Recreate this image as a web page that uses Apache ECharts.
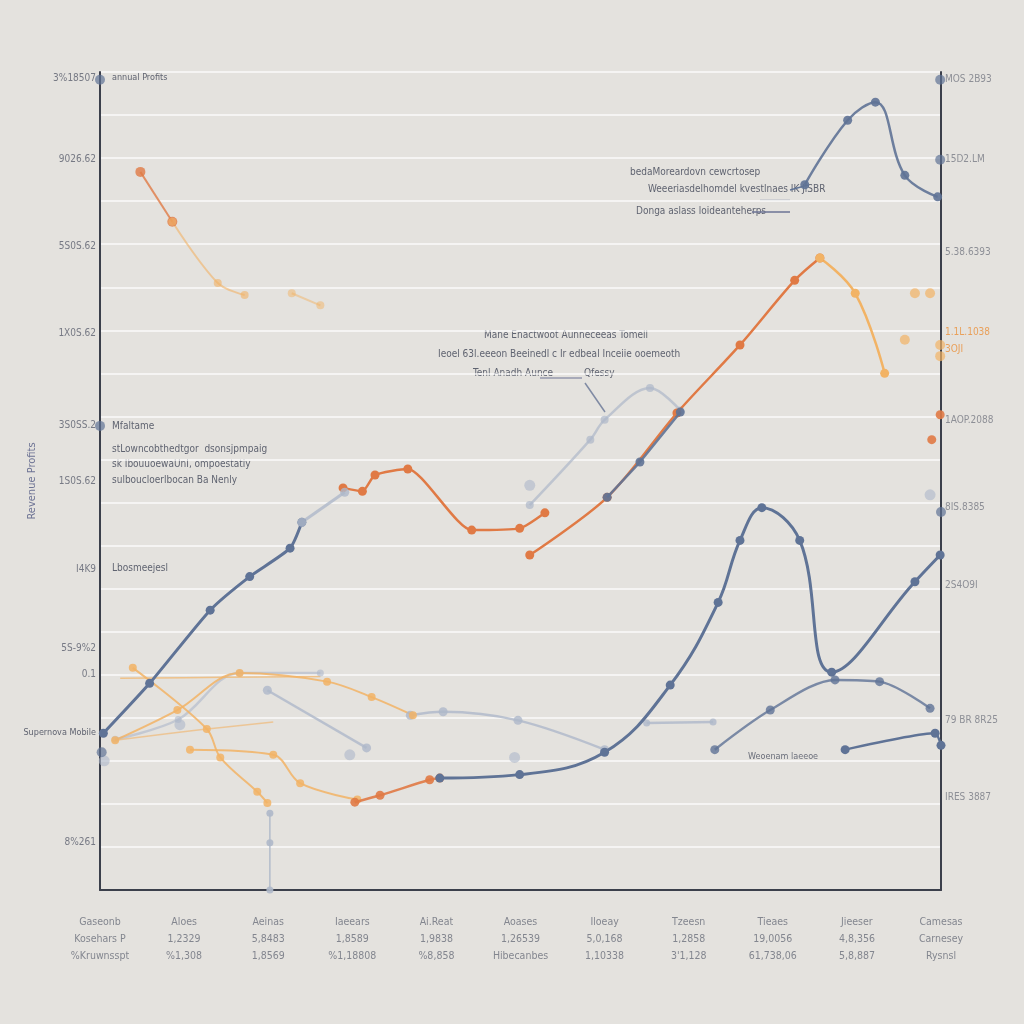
<!DOCTYPE html>
<html>
<head>
<meta charset="utf-8">
<script src="https://cdn.jsdelivr.net/npm/echarts@6/dist/echarts.min.js"></script>
<style>
html,body{margin:0;padding:0;background:#e4e2de;}
#chart{width:1024px;height:1024px;}
</style>
</head>
<body>
<div id="chart"></div>
<script>
// ---- categories (x axis, 3-line labels) ----
var categories = [
  ['Gaseonb','Kosehars P','%Kruwnsspt'],
  ['Aloes','1,2329','%1,308'],
  ['Aeinas','5,8483','1,8569'],
  ['Iaeears','1,8589','%1,18808'],
  ['Ai.Reat','1,9838','%8,858'],
  ['Aoases','1,26539','Hibecanbes'],
  ['Iloeay','5,0,168','1,10338'],
  ['Tzeesn','1,2858','3\'1,128'],
  ['Tieaes','19,0056','61,738,06'],
  ['Jieeser','4,8,356','5,8,887'],
  ['Camesas','Carnesey','Rysnsl']
];

// ---- left axis tick labels ----
var leftTickValues = [943, 848, 747, 646, 539, 475, 372, 281, 250, 55];
var leftTickLabels = ['3%18507','9026.62','5S0S.62','1X0S.62','3S0SS.2','1S0S.62','I4K9','5S-9%2','0.1','8%261'];
// ---- right axis tick labels ----
var rightTickValues = [941, 848, 740, 647, 628, 545, 444, 354, 197, 108];
var rightTickLabels = ['MOS 2B93','15D2.LM','5.38.6393','1.1L.1038','3OJI','1AOP.2088','8IS.8385','2S4O9I','79 BR 8R25','IRES 3887'];
var rightTickColors = ['#8d8f96','#8d8f96','#8d8f96','#e9a05a','#e9a05a','#8d8f96','#8d8f96','#8d8f96','#8d8f96','#8d8f96'];

// ---- series values: [category position, value] ----
var slateA = [[0.04,182],[0.59,240],[1.31,325],[1.78,364],[2.26,397],[2.40,427]];
var slateA2 = [[2.40,427],[2.91,462]];
var slateB = [[4.04,130],[4.99,134],[6.00,160],[6.78,238],[7.35,334],[7.61,406],[7.87,444],[8.32,406],[8.70,253],[9.69,358],[9.99,389]];
var slateC = [[7.31,163],[7.97,209],[8.74,244],[9.27,242],[9.87,211]];
var slateD = [[8.86,163],[9.93,182],[10.0,168]];
var slateE = [[8.38,819],[8.89,894],[9.22,915],[9.57,830],[9.96,805]];
var slateF = [[6.03,456],[6.42,497],[6.90,555]];
var slateDots = [[0,941],[0,539],[9.99,848],[9.99,941],[10,439],[0.02,160]];

var orangeA = [[0.48,834],[0.86,776]];
var orangeA2 = [[0.86,776],[1.40,705],[1.72,691]];
var orangeA3 = [[2.28,693],[2.62,679]];
var orangeB = [[2.89,467],[3.12,463],[3.27,482],[3.66,489],[4.42,418],[4.99,420],[5.29,438]];
var orangeC = [[5.11,389],[6.03,456],[6.86,554],[7.61,633],[8.26,708],[8.56,734]];
var orangeC2 = [[8.56,734],[8.98,693],[9.33,600]];
var orangeD = [[3.03,102],[3.33,110],[3.92,128],[4.04,130]];
var orangeDots = [[9.89,523],[9.99,552]];

var lightOrangeA = [[0.39,258],[1.27,187],[1.43,154],[1.87,114],[1.99,101]];
var lightOrangeB = [[1.07,163],[2.06,157],[2.38,124],[3.06,105]];
var lightOrangeC = [[0.18,174],[0.92,209],[1.66,252],[2.70,242],[3.23,224],[3.72,203]];
var lightOrangeD = [[0.18,174],[1.19,186],[2.06,195]];
var lightOrangeE = [[0.24,246],[1.50,247],[2.62,248]];
var lightOrangeDots = [[9.69,693],[9.87,693],[9.57,639],[9.99,633],[9.99,620]];

var lightBlueA = [[5.11,447],[5.83,523],[6.00,546],[6.54,583],[6.90,557]];
var lightBlueB = [[0.18,175],[0.93,198],[1.66,252],[2.62,252]];
var lightBlueC = [[1.99,232],[3.17,165]];
var lightBlueD = [[3.69,203],[4.08,207],[4.97,197],[6.00,163]];
var lightBlueE = [[6.50,194],[7.29,195]];
var lightBlueDrop = [[2.02,89],[2.02,55],[2.02,0]];
var lightBlueDots = [[0.95,192],[2.97,157],[4.93,154],[9.87,459],[5.11,470],[0.05,150]];

var SLATE = '#5f7396', ORANGE = '#e07a45', LORANGE = '#f2b365', LBLUE = '#aeb8c9';

function line(data, color, width, opacity, symSize, smooth, z) {
  return {
    type: 'line', data: data, smooth: smooth === undefined ? 0.35 : smooth,
    symbol: 'circle', symbolSize: symSize,
    lineStyle: {color: color, width: width, opacity: opacity},
    itemStyle: {color: color, opacity: opacity},
    z: z || 2, silent: true, animation: false
  };
}
function dots(data, color, opacity, size) {
  return {type: 'scatter', data: data, symbolSize: size, itemStyle: {color: color, opacity: opacity}, silent: true, animation: false, z: 3};
}
function nearest(arr, v) {
  var best = 0, d = 1e9;
  for (var i = 0; i < arr.length; i++) { var dd = Math.abs(arr[i] - v); if (dd < d) { d = dd; best = i; } }
  return best;
}

var FONT = 'DejaVu Sans Condensed, DejaVu Sans, sans-serif';

var chart = echarts.init(document.getElementById('chart'));
chart.setOption({
  backgroundColor: '#e4e2de',
  animation: false,
  grid: {left: 100, right: 83, top: 72, bottom: 134, containLabel: false, outerBoundsMode: 'none'},
  xAxis: {
    type: 'value', min: 0, max: 10, interval: 1,
    axisLine: {show: true, lineStyle: {color: '#3b3f4b', width: 2}},
    axisTick: {show: false},
    splitLine: {show: false},
    axisLabel: {
      margin: 24, color: '#83868f', fontSize: 10.5, lineHeight: 17, fontFamily: FONT,
      formatter: function (v) { var c = categories[Math.round(v)]; return c ? c.join('\n') : ''; }
    }
  },
  yAxis: [{
    type: 'value', min: 0, max: 950, interval: 50,
    name: 'Revenue Profits', nameLocation: 'middle', nameGap: 62, nameRotate: 90,
    nameTextStyle: {color: '#6d7394', fontSize: 11, fontFamily: FONT},
    axisLine: {show: true, lineStyle: {color: '#3b3f4b', width: 2}},
    axisTick: {show: false},
    splitLine: {show: true, lineStyle: {color: 'rgba(255,255,255,0.85)', width: 1.5}},
    axisLabel: {
      customValues: leftTickValues, color: '#767984', fontSize: 10, fontFamily: FONT, margin: 4,
      formatter: function (v) { return leftTickLabels[nearest(leftTickValues, v)]; }
    }
  }, {
    type: 'value', min: 0, max: 950, interval: 50, position: 'right',
    axisLine: {show: true, lineStyle: {color: '#3b3f4b', width: 2}},
    axisTick: {show: false},
    splitLine: {show: false},
    axisLabel: {
      customValues: rightTickValues, fontSize: 10, fontFamily: FONT, margin: 4,
      color: function (v) { return rightTickColors[nearest(rightTickValues, v)]; },
      formatter: function (v) { return rightTickLabels[nearest(rightTickValues, v)]; }
    }
  }],
  series: [
    line(lightBlueB, LBLUE, 2.5, 0.6, 7),
    line(lightBlueC, LBLUE, 2.5, 0.8, 9),
    line(lightBlueD, LBLUE, 2.5, 0.8, 9),
    line(lightBlueE, LBLUE, 2.5, 0.8, 7),
    line(lightBlueDrop, LBLUE, 1.5, 0.9, 7, false),
    line(lightBlueA, LBLUE, 2.5, 0.7, 8),
    dots(lightBlueDots, LBLUE, 0.6, 11),
    line(lightOrangeE, LORANGE, 1.5, 0.7, 0),
    line(lightOrangeD, LORANGE, 1.5, 0.6, 0),
    line(lightOrangeA, LORANGE, 2, 0.85, 8),
    line(lightOrangeB, LORANGE, 2, 0.85, 8),
    line(lightOrangeC, LORANGE, 2, 0.85, 8),
    dots(lightOrangeDots, LORANGE, 0.7, 10),
    line(orangeA, ORANGE, 2, 0.8, 10, false),
    line(orangeA2, LORANGE, 2, 0.6, 8),
    line(orangeA3, LORANGE, 2, 0.5, 8),
    line(orangeB, ORANGE, 2.5, 1, 9, 0.2, 4),
    line(orangeC, ORANGE, 2.5, 1, 9, 0.3, 4),
    line(orangeC2, LORANGE, 2.5, 1, 9, 0.4, 4),
    line(orangeD, ORANGE, 2.5, 0.9, 9, 0.3, 4),
    dots(orangeDots, ORANGE, 0.9, 9),
    line(slateA, SLATE, 3, 1, 9, 0.2, 5),
    line(slateA2, LBLUE, 3, 0.8, 9, 0, 5),
    line(slateB, SLATE, 3, 1, 9, 0.4, 5),
    line(slateC, SLATE, 2.5, 0.8, 9, 0.3, 5),
    line(slateD, SLATE, 2.5, 1, 9, 0.2, 5),
    line(slateE, SLATE, 2.5, 0.9, 9, 0.4, 5),
    line(slateF, SLATE, 2.5, 0.9, 9, 0, 5),
    dots(slateDots, SLATE, 0.7, 10)
  ],
  graphic: [
    {type: 'text', left: 112, top: 73, style: {text: 'annual Profits', fill: '#5f6370', font: '9px ' + FONT}},
    {type: 'text', left: 630, top: 167, style: {text: 'bedaMoreardovn cewcrtosep', fill: '#5f6370', font: '10px ' + FONT}},
    {type: 'text', left: 648, top: 184, style: {text: 'Weeeriasdelhomdel kvestlnaes IK JlSBR', fill: '#5f6370', font: '10px ' + FONT}},
    {type: 'text', left: 636, top: 206, style: {text: 'Donga aslass loideanteherps', fill: '#5f6370', font: '10px ' + FONT}},
    {type: 'polyline', shape: {points: [[752, 212], [790, 212]]}, style: {stroke: '#6d7394', lineWidth: 1.5}},
    {type: 'polyline', shape: {points: [[790, 200], [760, 200]]}, style: {stroke: '#b8bcc8', lineWidth: 1}},
    {type: 'polyline', shape: {points: [[790, 190], [808, 185]]}, style: {stroke: '#5f7396', lineWidth: 1.5}},
    {type: 'text', left: 484, top: 330, style: {text: 'Mane Enactwoot Aunneceeas Tomell', fill: '#5f6370', font: '10px ' + FONT}},
    {type: 'text', left: 438, top: 349, style: {text: 'Ieoel 63l.eeeon Beeinedl c Ir edbeal Inceiie ooemeoth', fill: '#5f6370', font: '10px ' + FONT}},
    {type: 'text', left: 473, top: 368, style: {text: 'Tenl Anadh Aunce', fill: '#5f6370', font: '10px ' + FONT}},
    {type: 'text', left: 584, top: 368, style: {text: 'Qfessy', fill: '#5f6370', font: '10px ' + FONT}},
    {type: 'polyline', shape: {points: [[540, 378], [582, 378]]}, style: {stroke: '#6d7394', lineWidth: 1}},
    {type: 'polyline', shape: {points: [[585, 383], [605, 412]]}, style: {stroke: '#7f8aa3', lineWidth: 1.5}},
    {type: 'text', left: 112, top: 421, style: {text: 'Mfaltame', fill: '#5f6370', font: '10px ' + FONT}},
    {type: 'text', left: 112, top: 444, style: {text: 'stLowncobthedtgor  dsonsjpmpaig', fill: '#5f6370', font: '10px ' + FONT}},
    {type: 'text', left: 112, top: 459, style: {text: 'sk IbouuoewaUnI, ompoestatiy', fill: '#5f6370', font: '10px ' + FONT}},
    {type: 'text', left: 112, top: 475, style: {text: 'sulboucloerlbocan Ba Nenly', fill: '#5f6370', font: '10px ' + FONT}},
    {type: 'text', left: 112, top: 563, style: {text: 'Lbosmeejesl', fill: '#5f6370', font: '10px ' + FONT}},
    {type: 'text', x: 96, y: 728, style: {text: 'Supernova Mobile', fill: '#5f6370', font: '9px ' + FONT, align: 'right'}},
    {type: 'text', left: 748, top: 752, style: {text: 'Weoenam laeeoe', fill: '#6a6e7a', font: '9px ' + FONT}}
  ]
});
</script>
</body>
</html>
